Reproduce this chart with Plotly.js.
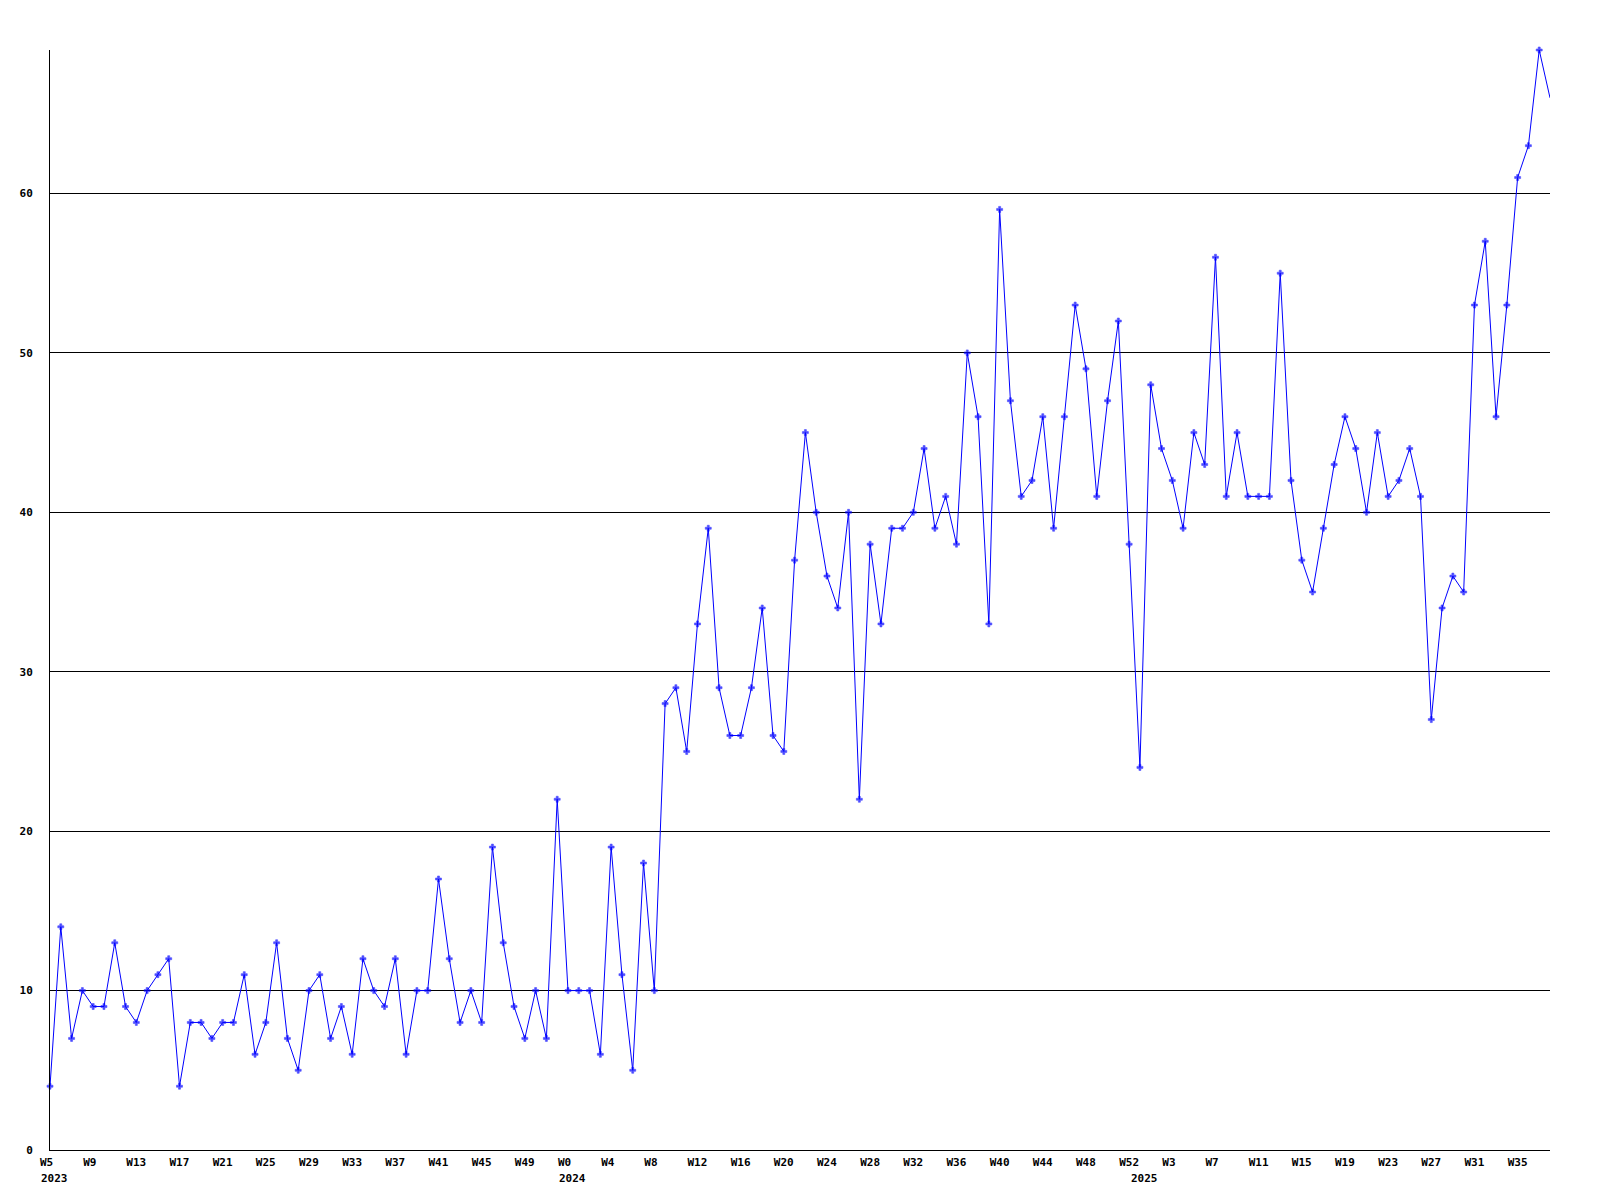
<!DOCTYPE html>
<html>
<head>
<meta charset="utf-8">
<script src="https://cdn.plot.ly/plotly-3.0.1.min.js"></script>
<style>html,body{margin:0;padding:0;background:#fff;}#chart{width:1600px;height:1200px;}</style>
</head>
<body>
<div id="chart"></div>
<script>
// Weekly counts
const years = [2023, 2024, 2025];
const firstWeek = [5, 0, 0];
const values2023 = [4,14,7,10,9,9,13,9,8,10,11,12,4,8,8,7,8,8,11,6,8,13,7,5,10,11,7,9,6,12,10,9,12,6,10,10,17,12,8,10,8,19,13,9,7,10,7,22];
const values2024 = [10,10,10,6,19,11,5,18,10,28,29,25,33,39,29,26,26,29,34,26,25,37,45,40,36,34,40,22,38,33,39,39,40,44,39,41,38,50,46,33,59,47,41,42,46,39,46,53,49,41,47,52,38];
const values2025 = [24,48,44,42,39,45,43,56,41,45,41,41,41,55,42,37,35,39,43,46,44,40,45,41,42,44,41,27,34,36,35,53,57,46,53,61,63,69,66];
const tickEvery = 4;

const series = [values2023, values2024, values2025];
const cats = [], weekText = [], vals = [], yearStart = [];
series.forEach((arr, s) => {
  arr.forEach((v, i) => {
    const w = firstWeek[s] + i;
    if (i === 0) yearStart.push({cat: years[s] + ' W' + w, year: years[s]});
    cats.push(years[s] + ' W' + w);
    weekText.push('W' + w);
    vals.push(v);
  });
});
const tickvals = [], ticktext = [];
cats.forEach((c, i) => { if (i % tickEvery === 0) { tickvals.push(c); ticktext.push(weekText[i]); } });
const sizes = vals.map((v, i) => i === vals.length - 1 ? 0 : 5);

const font = {family: 'DejaVu Sans Mono', size: 11, color: '#000', weight: 'bold'};

const trace = {
  x: cats, y: vals, type: 'scatter', mode: 'lines+markers',
  line: {color: '#0000ff', width: 1},
  marker: {color: '#0000ff', size: sizes, symbol: 'cross', line: {width: 0.6, color: '#0000ff'}},
  cliponaxis: false, hoverinfo: 'skip'
};

const annotations = yearStart.map(o => ({
  x: o.cat, xref: 'x', y: 0, yref: 'paper', yanchor: 'top', xanchor: 'left',
  xshift: -11, yshift: -20, text: String(o.year), showarrow: false, font: font
}));

const layout = {
  width: 1600, height: 1200,
  margin: {l: 50, r: 50, t: 50, b: 50},
  paper_bgcolor: '#fff', plot_bgcolor: '#fff',
  showlegend: false,
  font: font,
  xaxis: {
    type: 'category', range: [0, cats.length - 1],
    tickvals: tickvals, ticktext: ticktext,
    showgrid: false, zeroline: false,
    showline: true, linecolor: '#000', linewidth: 1,
    ticks: 'outside', ticklen: 4, tickcolor: 'rgba(0,0,0,0)',
    ticklabelposition: 'outside right', ticklabelshift: -11, ticklabelstandoff: 2,
    tickfont: font, tickangle: 0
  },
  yaxis: {
    range: [0, Math.max(...vals)], tickmode: 'linear', tick0: 0, dtick: 10,
    showgrid: true, gridcolor: '#000', gridwidth: 1,
    zeroline: false, showline: true, linecolor: '#000', linewidth: 1,
    ticks: 'outside', ticklen: 14, tickcolor: 'rgba(0,0,0,0)',
    tickfont: font
  },
  annotations: annotations
};

Plotly.newPlot('chart', [trace], layout, {staticPlot: true, displayModeBar: false});
</script>
</body>
</html>
